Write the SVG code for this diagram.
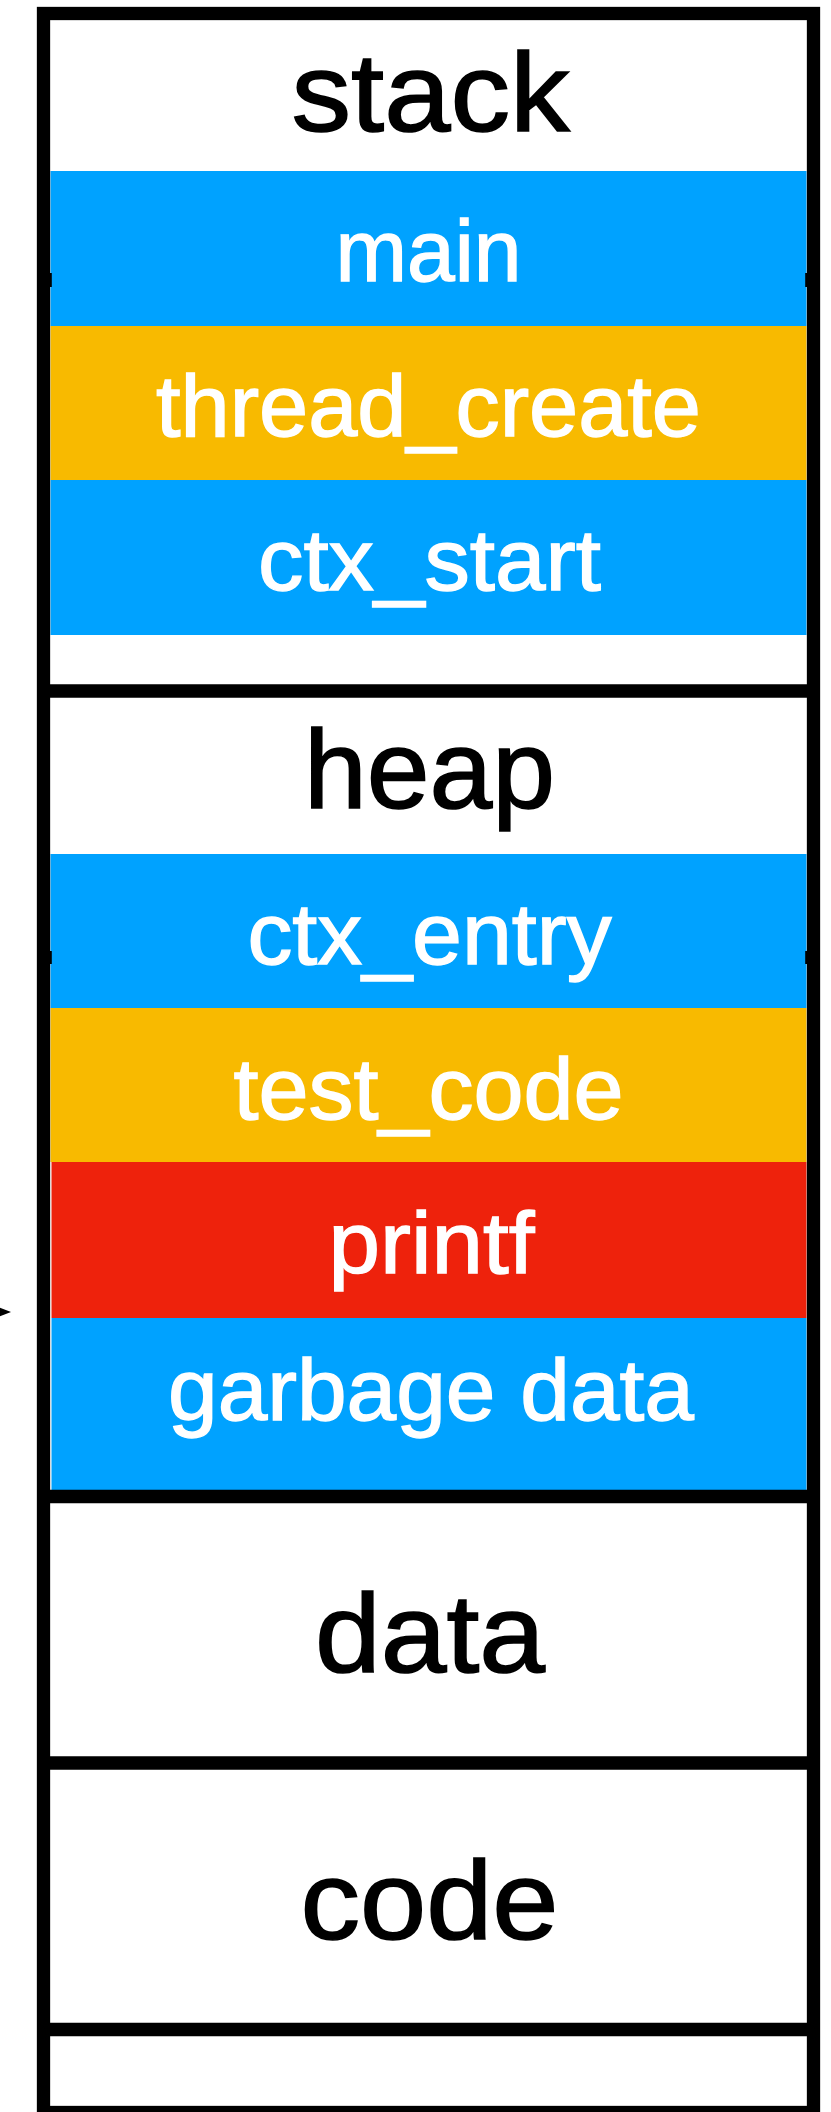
<svg xmlns="http://www.w3.org/2000/svg" width="831" height="2112" viewBox="0 0 831 2112">
  <style>
    .frame { fill: none; stroke: #000; stroke-width: 13.3; }
    .div { stroke: #000; stroke-width: 13.3; }
    .blue { fill: #00A2FF; }
    .orange { fill: #F8BA00; }
    .red { fill: #EE220C; }
    .title { font-family: "Liberation Sans", Arial, Helvetica, sans-serif; font-size: 112px; fill: #000; stroke: #000; stroke-width: 1.6px; text-anchor: middle; }
    .label { font-family: "Liberation Sans", Arial, Helvetica, sans-serif; font-size: 88px; fill: #fff; stroke: #fff; stroke-width: 1.4px; text-anchor: middle; }
  </style>
  <rect x="0" y="0" width="831" height="2112" fill="#fff"/>

  <g id="stack">
    <text class="title" x="430.5" y="130.5" textLength="278" lengthAdjust="spacingAndGlyphs">stack</text>
  </g>
  <g id="main">
    <rect class="blue" x="50.5" y="171" width="756" height="155"/>
    <text class="label" x="428.5" y="280.5" textLength="186" lengthAdjust="spacingAndGlyphs">main</text>
  </g>
  <g id="thread_create">
    <rect class="orange" x="50.5" y="326" width="756" height="154"/>
    <text class="label" x="428.5" y="436" textLength="545" lengthAdjust="spacingAndGlyphs">thread_create</text>
  </g>
  <g id="ctx_start">
    <rect class="blue" x="50.5" y="480" width="756" height="155"/>
    <text class="label" x="429.5" y="590" textLength="343" lengthAdjust="spacingAndGlyphs">ctx_start</text>
  </g>

  <g id="heap">
    <text class="title" x="429.5" y="808" textLength="251" lengthAdjust="spacingAndGlyphs">heap</text>
  </g>
  <g id="ctx_entry">
    <rect class="blue" x="50.5" y="854" width="756" height="154"/>
    <text class="label" x="429.5" y="964" textLength="364" lengthAdjust="spacingAndGlyphs">ctx_entry</text>
  </g>
  <g id="test_code">
    <rect class="orange" x="50.5" y="1008" width="756" height="154"/>
    <text class="label" x="428.5" y="1119" textLength="390" lengthAdjust="spacingAndGlyphs">test_code</text>
  </g>
  <g id="printf">
    <rect class="red" x="51.5" y="1162" width="755" height="156"/>
    <text class="label" x="431.5" y="1273" textLength="206" lengthAdjust="spacingAndGlyphs">printf</text>
  </g>
  <g id="garbage_data">
    <rect class="blue" x="51.5" y="1318" width="755" height="172"/>
    <text class="label" x="431" y="1420" textLength="526" lengthAdjust="spacingAndGlyphs">garbage data</text>
  </g>

  <g id="data">
    <text class="title" x="430" y="1671.5" textLength="230" lengthAdjust="spacingAndGlyphs">data</text>
  </g>
  <g id="code">
    <text class="title" x="429.5" y="1938.5" textLength="258" lengthAdjust="spacingAndGlyphs">code</text>
  </g>

  <g id="frame">
    <rect class="frame" x="43.5" y="13.5" width="770" height="2099"/>
    <line class="div" x1="43.5" y1="691" x2="813.5" y2="691"/>
    <line class="div" x1="43.5" y1="1496.5" x2="813.5" y2="1496.5"/>
    <line class="div" x1="43.5" y1="1763" x2="813.5" y2="1763"/>
    <line class="div" x1="43.5" y1="2029.5" x2="813.5" y2="2029.5"/>
    <rect x="50" y="273" width="1.8" height="14" fill="#000"/>
    <rect x="805.2" y="273" width="1.8" height="14" fill="#000"/>
    <rect x="50" y="951" width="1.8" height="13" fill="#000"/>
    <rect x="805.2" y="951" width="1.8" height="13" fill="#000"/>
  </g>

  <g id="connectors">
    <polygon points="-3,1306.5 11,1312 -3,1317.5" fill="#000"/>
  </g>
</svg>
